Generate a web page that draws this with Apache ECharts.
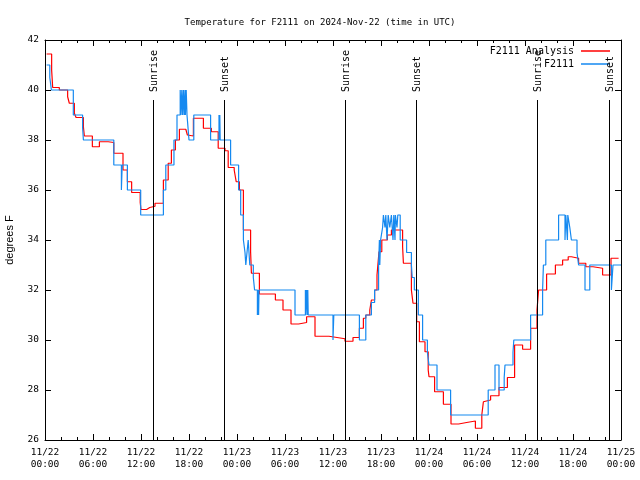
<!DOCTYPE html>
<html><head><meta charset="utf-8">
<script src="https://cdn.jsdelivr.net/npm/echarts@6/dist/echarts.min.js"></script>
<style>html,body{margin:0;padding:0;background:#fff}#c{width:640px;height:480px}</style>
</head><body><div id="c"></div>
<script>
// hours since 2024-11-22 00:00 UTC
const analysisTimes = [0.2,0.83,0.96,1.79,2.83,3.04,3.67,3.88,4.8,4.92,5.92,6.8,7.9,8.6,9.75,10.3,10.83,11.9,12.0,12.7,13.1,13.75,14.8,15.4,15.8,16.3,16.8,17.6,17.8,18.0,18.55,19.8,20.8,21.65,22.5,22.9,23.65,23.9,24.3,24.8,25.7,25.8,26.8,28.8,29.75,30.75,31.7,32.7,33.75,35.5,36.5,37.5,38.5,39.3,39.8,40.1,40.6,40.8,41.2,41.5,41.75,42.1,42.8,43.3,44.7,44.8,45.8,46.0,46.46,46.8,47.5,47.9,48.0,48.7,49.8,50.75,51.7,52.7,53.8,54.6,54.8,55.0,55.7,56.75,57.8,58.7,59.7,60.7,61.5,61.7,62.7,63.8,64.7,65.4,65.8,66.7,67.6,68.5,69.7,70.75,71.7];
const analysisValues = [41.44,40.8,40.1,40.0,39.73,39.47,39.07,38.9,38.53,38.16,37.73,37.93,37.9,37.47,36.8,36.33,35.9,35.5,35.22,35.3,35.35,35.47,36.4,37.07,37.6,38.0,38.43,38.35,38.2,38.16,38.87,38.47,38.33,37.67,37.57,36.9,36.8,36.33,36.0,34.4,33.53,32.67,31.84,31.6,31.2,30.64,30.7,30.93,30.15,30.1,30.05,29.95,30.1,30.47,30.87,31.0,31.2,31.6,32.0,32.6,33.53,34.0,34.2,34.4,33.73,33.07,32.0,31.47,30.73,29.93,29.53,28.8,28.53,27.93,27.43,26.64,26.7,26.76,26.47,27.0,27.53,27.6,27.77,28.1,28.5,29.8,29.63,30.47,31.2,32.0,32.64,33.0,33.2,33.33,33.27,33.07,32.93,32.87,32.6,33.27,33.27];

const stationTimes = [0.2,0.6,0.8,3.54,4.7,4.8,8.6,9.55,9.65,10.3,11.96,14.8,15.1,16.12,16.5,16.9,17.0,17.1,17.2,17.3,17.4,17.5,17.55,17.65,17.75,18.0,18.6,20.7,21.75,21.8,21.85,21.9,23.2,24.2,24.46,24.8,25.0,25.1,25.25,25.4,25.6,26.04,26.2,26.55,26.6,26.7,26.75,31.25,32.55,32.6,32.7,32.8,32.85,32.9,36.0,36.1,39.3,40.1,40.8,41.2,41.7,41.8,41.85,41.95,42.2,42.3,42.5,42.6,42.75,42.9,43.1,43.3,43.5,43.6,43.75,43.8,44.0,44.1,44.4,45.2,45.8,45.9,46.17,46.67,47.2,47.8,48.0,49.0,50.7,55.4,56.25,56.75,57.4,57.5,58.5,58.6,60.7,62.2,62.3,62.6,64.2,65.0,65.1,65.3,65.35,65.6,65.8,66.5,66.7,67.5,68.1,70.8,71.0,72];
const stationValues = [41,40.5,40,39,38.5,38,37,36,37,36,35,36,37,38,39,40,39,40,39,40,39,40,39,40,39,38,39,38,39,38,39,38,37,36,35,34,33.5,33,33.5,34,33,32.5,32,31,32,31,32,31,32,31,32,31,32,31,30,31,30,31,31.5,32,33,34,33,34,34.5,35,34.5,35,34,35,34.5,35,34,35,34,35,34.5,35,34,33.5,33,32.5,32,31,30,29.5,29,28,27,28,29,28,28.5,29,29.5,30,31,32,33,34,35,34,35,34,35,34.5,34,33.5,33,32,33,32,33,33];

const sunTimes = [13.55, 22.38, 37.55, 46.42, 61.55, 70.46];
const sunLabels = ['Sunrise','Sunset','Sunrise','Sunset','Sunrise','Sunset'];
const sunLineTop = 39.6;   // graph 0.85
const sunLabelBase = 39.92;

const yMin = 26, yMax = 42;
const MONO = 'DejaVu Sans Mono';

function zip(t, v){ return t.map((x,i)=>[x, v[i]]); }
function xFmt(v){
  const d = 22 + Math.floor(v/24), h = v % 24;
  return '11/' + d + '\n' + (h<10?'0':'') + h + ':00';
}

const chart = echarts.init(document.getElementById('c'), null, {renderer:'canvas'});
const axisCommonX = {
  type:'value', min:0, max:72, interval:6,
  axisLine:{show:true, onZero:false, lineStyle:{color:'#000', width:1}},
  axisTick:{show:true, inside:true, length:6, lineStyle:{color:'#000'}},
  minorTick:{show:true, splitNumber:3, length:3, lineStyle:{color:'#000'}},
  splitLine:{show:false}
};
const axisCommonY = {
  type:'value', min:yMin, max:yMax, interval:2,
  axisLine:{show:true, onZero:false, lineStyle:{color:'#000', width:1}},
  axisTick:{show:true, inside:true, length:6, lineStyle:{color:'#000'}},
  splitLine:{show:false}
};

chart.setOption({
  animation:false,
  backgroundColor:'#fff',
  title:{text:'Temperature for F2111 on 2024-Nov-22 (time in UTC)', left:'center', top:13,
    textStyle:{fontFamily:MONO, fontSize:9, fontWeight:'normal', color:'#000'}},
  grid:{left:45, right:19, top:40, bottom:40, containLabel:false, outerBoundsMode:'none'},
  legend:[
    {data:['F2111 Analysis'], right:30, top:46, padding:0, align:'right', icon:'rect', itemWidth:29, itemHeight:1.5,
      textStyle:{fontFamily:MONO, fontSize:10, color:'#000', padding:[0,2,0,0]}},
    {data:['F2111'], right:30, top:59, padding:0, align:'right', icon:'rect', itemWidth:29, itemHeight:1.5,
      textStyle:{fontFamily:MONO, fontSize:10, color:'#000', padding:[0,2,0,0]}}
  ],
  xAxis:[
    Object.assign({}, axisCommonX, {position:'bottom',
      axisLabel:{show:true, formatter:xFmt, margin:7, fontFamily:MONO, fontSize:9.5, lineHeight:12, color:'#000'}}),
    Object.assign({}, axisCommonX, {position:'top', axisLabel:{show:false}})
  ],
  yAxis:[
    Object.assign({}, axisCommonY, {position:'left', name:'degrees F', nameLocation:'middle', nameGap:30,
      nameTextStyle:{fontFamily:'Liberation Sans', fontSize:11, color:'#000'},
      axisLabel:{show:true, margin:6, fontFamily:MONO, fontSize:9.5, color:'#000'}}),
    Object.assign({}, axisCommonY, {position:'right', axisLabel:{show:false}})
  ],
  series:[
    {name:'F2111 Analysis', type:'line', step:'end', data:zip(analysisTimes, analysisValues),
      showSymbol:false, symbol:'none', lineStyle:{color:'#ff0000', width:1.2}, itemStyle:{color:'#ff0000'}, z:2},
    {name:'F2111', type:'line', step:'end', data:zip(stationTimes, stationValues),
      showSymbol:false, symbol:'none', lineStyle:{color:'#1589f0', width:1.2}, itemStyle:{color:'#1589f0'}, z:3},
    {name:'sun', type:'custom', z:4, silent:true,
      data:sunTimes.map((t,i)=>[t, i]),
      renderItem:function(params, api){
        const t = api.value(0);
        const label = sunLabels[api.value(1)];
        const top = api.coord([t, sunLineTop]);
        const bot = api.coord([t, yMin]);
        const lb = api.coord([t, sunLabelBase]);
        const x = Math.round(top[0]) + 0.5;
        return {type:'group', children:[
          {type:'line', shape:{x1:x, y1:top[1], x2:x, y2:bot[1]}, style:{stroke:'#000', lineWidth:1}},
          {type:'text', x:x+1, y:lb[1], rotation:Math.PI/2,
            style:{text:label, font:'10px "DejaVu Sans Mono"', fill:'#000', align:'left', verticalAlign:'middle'}}
        ]};
      }
    }
  ]
});
</script></body></html>
